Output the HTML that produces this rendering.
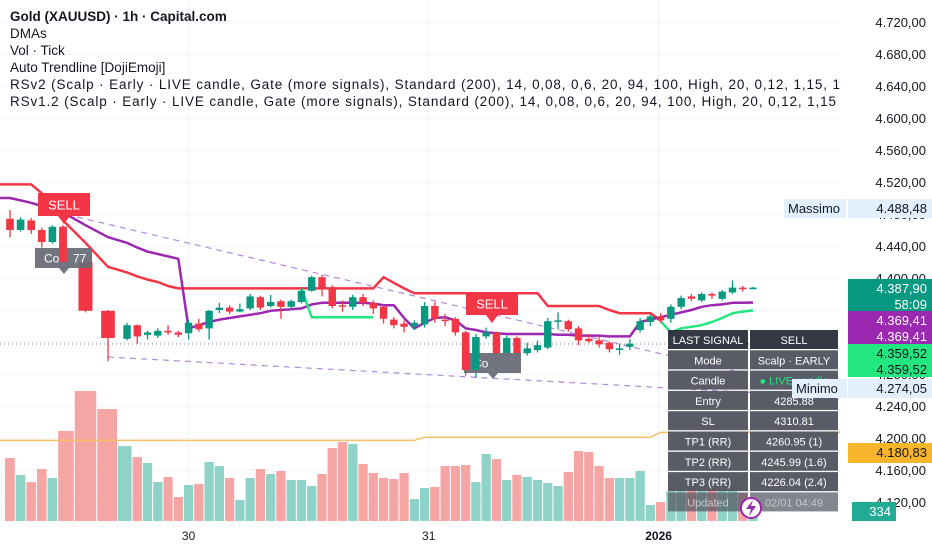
<!DOCTYPE html>
<html><head><meta charset="utf-8">
<style>
html,body{margin:0;padding:0;background:#fff;}
body{width:932px;height:550px;overflow:hidden;font-family:"Liberation Sans",sans-serif;}
svg text{font-family:"Liberation Sans",sans-serif;}
</style></head>
<body>
<svg id="chart" width="932" height="550" viewBox="0 0 932 550" xmlns="http://www.w3.org/2000/svg">
<defs><clipPath id="plotclip"><rect x="0" y="0" width="840" height="525"/></clipPath></defs>
<g id="grid"></g>
<g id="volumes" clip-path="url(#plotclip)"></g>
<g id="overlays" clip-path="url(#plotclip)"></g>
<g id="candles"></g>
<g id="labels"></g>
<g id="table"></g>
<g id="axis"></g>
<g id="legend" clip-path="url(#plotclip)"></g>
</svg>
<script>
// ---- data ----
const opens  = [4474,4460,4472,4460,4445,4464,4420,4359,4324,4341,4329,4328,4334,4332,4331,4343,4337,4360,4363,4358,4362,4376,4365,4371,4364,4370,4384,4401,4388,4366,4364,4376,4369,4364,4348,4343,4339,4342,4365,4348,4349,4332,4285,4327,4331,4306,4325,4306,4310,4313,4346,4346,4337,4324,4322,4319,4310,4314,4335,4345,4352,4349,4364,4377,4372,4380,4374,4382,4388,4386];
const closes = [4460,4473,4460,4445,4464,4420,4359,4325,4341,4327,4332,4334,4332,4329,4344,4336,4359,4363,4358,4361,4377,4363,4370,4364,4371,4384,4401,4388,4365,4365,4376,4369,4362,4349,4341,4339,4344,4365,4349,4347,4332,4285,4326,4332,4306,4325,4306,4312,4316,4346,4347,4336,4322,4321,4317,4311,4312,4318,4346,4352,4347,4364,4375,4374,4380,4378,4383,4388,4386,4388];
const highs  = [4485,4476,4475,4463,4466,4466,4422,4360,4344,4342,4334,4337,4341,4334,4348,4349,4360,4369,4366,4368,4380,4378,4379,4373,4373,4389,4403,4404,4391,4372,4379,4380,4372,4366,4351,4347,4347,4370,4370,4355,4351,4334,4330,4338,4333,4328,4327,4319,4322,4350,4357,4348,4340,4330,4326,4321,4318,4324,4350,4354,4356,4367,4378,4380,4382,4382,4385,4397,4390,4389];
const lows   = [4451,4458,4455,4438,4443,4418,4357,4296,4322,4318,4323,4325,4329,4326,4323,4333,4323,4356,4355,4357,4360,4360,4363,4349,4360,4368,4383,4377,4362,4358,4360,4365,4355,4343,4337,4332,4335,4338,4344,4340,4328,4278,4275,4324,4302,4303,4300,4303,4307,4311,4336,4333,4316,4319,4313,4307,4304,4310,4332,4340,4344,4344,4361,4371,4370,4374,4372,4380,4383,4386];
const volumes = [63,46,39,52,43,90,130,112,75,64,58,39,44,24,36,37,59,55,43,21,43,52,47,50,41,41,35,47,73,79,77,57,48,43,42,48,22,33,34,55,55,56,39,67,62,41,46,44,41,38,35,49,70,69,55,43,43,43,50,16,19,30,32,34,30,33,31,35,28,5];
const redLine = [4517,4517,4517,4506,4490,4472,4444,4414,4407,4402,4398,4395,4390,4387,4387,4387,4387,4387,4387,4387,4387,4387,4387,4387,4387,4387,4387,4387,4387,4387,4387,4387,4387,4401,4394,4387,4381,4381,4381,4381,4381,4381,4381,4381,4381,4381,4381,4381,4381,4365,4365,4365,4365,4365,4365,4360,4356,4356,4356,4356,4347];
const purpleLine = [4500,4497,4494,4490,4486,4482,4466,4451,4444,4438,4433,4430,4427,4424,4337,4341,4345,4348,4350,4352,4354,4356,4359,4360,4361,4362,4367,4369,4369,4369,4369,4369,4368,4366,4366,4350,4337,4344,4350,4351,4347,4337,4335,4332,4331,4330,4330,4330,4330,4330,4329,4329,4328,4328,4328,4327,4327,4327,4345,4348,4351,4354,4357,4360,4364,4366,4367,4369,4369,4369.4];
const greenLine = [null,null,null,null,null,null,null,null,null,null,null,null,null,null,null,null,null,null,null,null,null,null,null,null,null,4387,4351,4351,4351,4351,4351,4351,4351,null,null,null,null,null,null,null,null,null,null,null,null,null,null,null,null,null,null,null,null,null,null,null,null,null,null,null,4346,4332,4337,4339,4341,4345,4350,4356,4358,4359.5];
const volMA = [4197,4197,4197,4197,4197,4197,4197,4197,4197,4197,4197,4197,4197,4197,4197,4197,4197,4197,4197,4197,4197,4197,4197,4197,4197,4197,4197,4197,4197,4197,4197,4197,4197,4197,4197,4197,4197,4201,4201,4201,4201,4201,4201,4201,4201,4201,4201,4201,4201,4201,4201,4201,4201,4201,4201,4201,4201,4201,4201,4201,4207,4207,4207,4207,4207,4207,4207,4207,4207,4207];
const priceTicks = [4720,4680,4640,4600,4560,4520,4480,4440,4400,4360,4320,4280,4240,4200,4160,4120];
const dateLabels = ["30","31","2026"];
const dateIndex = [14.0,37.4,59.8];
const signalIdx = [4,43];
const tableRows = [["LAST SIGNAL","SELL"],["Mode","Scalp · EARLY"],["Candle","● LIVE candle"],["Entry","4285.88"],["SL","4310.81"],["TP1 (RR)","4260.95 (1)"],["TP2 (RR)","4245.99 (1.6)"],["TP3 (RR)","4226.04 (2.4)"],["Updated","02/01 04:49"]];

// ---- scales ----
const N = opens.length;
const py = p => 22 + (4720 - p) * 0.8;
// piecewise-linear time axis (the earlier session is displayed wider)
const knotI = [-1, 0, 5, 7, 8, 69, 80];
const knotX = [-1, 10, 63, 108, 127, 753, 866];
function xs(i){
  for (let k = 0; k < knotI.length - 1; k++) {
    if (i <= knotI[k+1]) return knotX[k] + (i - knotI[k]) * (knotX[k+1] - knotX[k]) / (knotI[k+1] - knotI[k]);
  }
  return knotX[knotX.length-1];
}
const step = i => Math.min(xs(i+1) - xs(i), xs(i) - xs(i-1)) || 10;
const vy = v => 521 - v;
const NS = "http://www.w3.org/2000/svg";
function mk(tag, attrs, parent, text){
  const e = document.createElementNS(NS, tag);
  for (const k in attrs) e.setAttribute(k, attrs[k]);
  if (text !== undefined) e.textContent = text;
  parent.appendChild(e); return e;
}
const G = id => document.getElementById(id);

// grid
const grid = G('grid');
priceTicks.forEach(p => {
  const l = mk('line', {x1:0, x2:840, y1:py(p), y2:py(p), stroke:'#f0f3fa', 'stroke-width':1}, grid);
  
  
});
dateIndex.forEach(i => {
  const l = mk('line', {x1:xs(i), x2:xs(i), y1:0, y2:525, stroke:'#f0f3fa', 'stroke-width':1}, grid);
  
  
});

// volumes
const vg = G('volumes');
volumes.forEach((v, i) => {
  const up = closes[i] >= opens[i];
  const left = (xs(i - 1) + xs(i)) / 2, right = (xs(i) + xs(i + 1)) / 2;
  const r = mk('rect', {x:left + 0.5, y:vy(v), width:Math.max(1, right - left - 1), height:v, fill: up ? '#8fd3c8' : '#f5a6a4'}, vg);
  
  
});
const ov = G('overlays');
function poly(arr, color, w, name, extendLeft){
  let d = '', pen = false;
  arr.forEach((v, i) => {
    if (v === null) { pen = false; return; }
    if (!pen && i === 0 && extendLeft) d += 'M0 ' + py(v).toFixed(1) + ' ';
    d += ((pen || (i === 0 && extendLeft)) ? 'L' : 'M') + xs(i).toFixed(1) + ' ' + py(v).toFixed(1) + ' ';
    pen = true;
  });
  const p = mk('path', {d:d, fill:'none', stroke:color, 'stroke-width':w, 'stroke-linejoin':'round'}, ov);
  
  
  return p;
}
const vm = poly(volMA, '#f7c064', 1.5, 'volume-ma-line', true);
vm.setAttribute('d', vm.getAttribute('d') + 'L840 ' + py(volMA[N-1]));

const t1 = mk('line', {x1:77, y1:217, x2:850, y2:398, stroke:'#b48ad6', 'stroke-width':1.2, 'stroke-dasharray':'6 5'}, ov);


const t2 = mk('line', {x1:108, y1:357, x2:850, y2:398, stroke:'#b48ad6', 'stroke-width':1.2, 'stroke-dasharray':'6 5'}, ov);


const pl = mk('line', {x1:0, y1:344, x2:840, y2:344, stroke:'#787b86', 'stroke-width':1, 'stroke-dasharray':'1 3'}, ov);



poly(redLine, '#f23645', 2.5, 'resistance-line', true);
poly(purpleLine, '#9c27b0', 2.5, 'dma-line', true);
poly(greenLine, '#22e67e', 2.5, 'support-line', false);

// candles
const cg = G('candles');
function bodyW(i){ return Math.min(14, Math.max(5, step(i) * 0.72)); }
for (let i = 0; i < N; i++) {
  const up = closes[i] >= opens[i];
  const col = up ? '#089981' : '#f23645';
  const g = mk('g', {}, cg);
  
  
  mk('line', {x1:xs(i), x2:xs(i), y1:py(highs[i]), y2:py(lows[i]), stroke:col, 'stroke-width':1.3}, g);
  const top = py(Math.max(opens[i], closes[i])), bot = py(Math.min(opens[i], closes[i]));
  const w = bodyW(i);
  mk('rect', {x:xs(i) - w/2, y:top, width:w, height:Math.max(1.5, bot - top), fill:col}, g);
}

// signal labels
const lg = G('labels');
signalIdx.forEach((i, k) => {
  const cx = k === 0 ? 64 : 492;
  const ty = k === 0 ? 193 : 292;
  const s = mk('g', {}, lg);
  
  
  mk('path', {d:`M${cx-26} ${ty} h52 v23 h-20 l-6 8 l-6 -8 h-20 z`, fill:'#f23645'}, s);
  mk('text', {x:cx, y:ty + 16.5, 'text-anchor':'middle', 'font-size':13, fill:'#fff'}, s, 'SELL');
  const c = mk('g', {}, lg);
  
  
  const gy = k === 0 ? 248 : 353;
  const gx = k === 0 ? 63 : 492;
  mk('path', {d:`M${gx-28} ${gy} h57 v20 h-23 l-5 6 l-5 -6 h-24 z`, fill:'#6a6d78', opacity:0.95}, c);
  mk('text', {x:gx - 19, y:gy + 14.5, 'font-size':12, fill:'#fff'}, c, 'Co');
  if (k === 0) mk('text', {x:gx + 10, y:gy + 14.5, 'font-size':12, fill:'#fff'}, c, '77');
});
[5, 41, 42].forEach(i => {
  const up = closes[i] >= opens[i];
  const col = up ? '#089981' : '#f23645';
  const top = py(Math.max(opens[i], closes[i])), bot = py(Math.min(opens[i], closes[i]));
  const w = bodyW(i);
  const r = mk('rect', {x:xs(i) - w/2, y:top, width:w, height:bot - top, fill:col}, lg);
  
  
});

// table
const tg = G('table');
const rowH = 20.3, tx = 668, ty0 = 330;
tableRows.forEach((row, r) => {
  const y = ty0 + r * rowH;
  const g = mk('g', {}, tg);
  
  
  const bg = r === 0 ? '#2a2e39' : '#50535e';
  const op = r === tableRows.length - 1 ? 0.7 : 0.95;
  mk('rect', {x:tx, y:y, width:80, height:rowH - 1.3, fill:bg, opacity:op}, g);
  mk('rect', {x:tx + 82, y:y, width:88, height:rowH - 1.3, fill:bg, opacity:op}, g);
  const fc = r === 2 ? '#22e67e' : (r === tableRows.length - 1 ? '#c8c9cc' : '#ffffff');
  mk('text', {x:tx + 40, y:y + 14, 'text-anchor':'middle', 'font-size':11, fill: r === tableRows.length - 1 ? '#c8c9cc' : '#fff'}, g, row[0]);
  mk('text', {x:tx + 126, y:y + 14, 'text-anchor':'middle', 'font-size':11, fill:fc}, g, row[1]);
});
const bolt = mk('g', {}, tg);


mk('circle', {cx:751, cy:508, r:10, fill:'#fff', stroke:'#9c27b0', 'stroke-width':2}, bolt);
mk('path', {d:'M753 500 L746 509 L751 509 L749 516 L756 506 L751 506 Z', fill:'#9c27b0'}, bolt);

// price axis
const ax = G('axis');
const axbg = mk('rect', {x:840, y:0, width:92, height:550, fill:'#fff'}, ax);


priceTicks.forEach(p => {
  const s = p.toFixed(2).replace('.', ',');
  const t = mk('text', {x:926, y:py(p) + 5, 'text-anchor':'end', 'font-size':13, fill:'#131722'}, ax, s[0] + '.' + s.slice(1));
  
  
});
function tag(x, y, w, h, bg, lines, fc, name, anchor){
  const g = mk('g', {}, ax);
  
  
  mk('rect', {x:x, y:y, width:w, height:h, fill:bg}, g);
  lines.forEach((l, k) => mk('text', {x: anchor === 'start' ? x + 4 : x + w - 5, y:y + 14 + k * 16, 'text-anchor': anchor === 'start' ? 'start' : 'end', 'font-size':13, fill:fc}, g, l));
}
tag(784, 199, 62, 19, '#e3effd', ['Massimo'], '#131722', 'max-label', 'start');
tag(848, 199, 84, 19, '#e3effd', ['4.488,48'], '#131722', 'max-value-tag');
tag(848, 279, 84, 32, '#089981', ['4.387,90', '58:09'], '#fff', 'last-price-tag');
tag(848, 311, 84, 33, '#9c27b0', ['4.369,41', '4.369,41'], '#fff', 'dma-value-tag');
tag(848, 344, 84, 33, '#22e67e', ['4.359,52', '4.359,52'], '#131722', 'support-value-tag');
tag(792, 379, 55, 19, '#e3effd', ['Minimo'], '#131722', 'min-label', 'start');
tag(848, 379, 84, 19, '#e3effd', ['4.274,05'], '#131722', 'min-value-tag');
tag(848, 443, 84, 20, '#f7b52b', ['4.180,83'], '#131722', 'volume-ma-tag');
tag(852, 502, 44, 19, '#22ab94', ['334'], '#fff', 'volume-value-tag');

dateLabels.forEach((d, k) => {
  const t = mk('text', {x:xs(dateIndex[k]), y:540, 'text-anchor':'middle', 'font-size':12, fill:'#131722', 'font-weight': d === '2026' ? 'bold' : 'normal'}, ax, d);
  
  
});

// legend
const lgd = G('legend');
const legendLines = ['Gold (XAUUSD) · 1h · Capital.com','DMAs','Vol · Tick','Auto Trendline [DojiEmoji]',
 'RSv2 (Scalp · Early · LIVE candle, Gate (more signals), Standard (200), 14, 0,08, 0,6, 20, 94, 100, High, 20, 0,12, 1,15, 1',
 'RSv1.2 (Scalp · Early · LIVE candle, Gate (more signals), Standard (200), 14, 0,08, 0,6, 20, 94, 100, High, 20, 0,12, 1,15'];
legendLines.forEach((l, k) => {
  const t = mk('text', {x:10, y:21 + k * 17, 'font-size':13.5, fill:'#131722', 'font-weight': k === 0 ? 'bold' : 'normal'}, lgd, l);
  if (k === 4) t.setAttribute('textLength', 830);
  if (k === 5) t.setAttribute('textLength', 826);
  
  
});
</script>
</body></html>
